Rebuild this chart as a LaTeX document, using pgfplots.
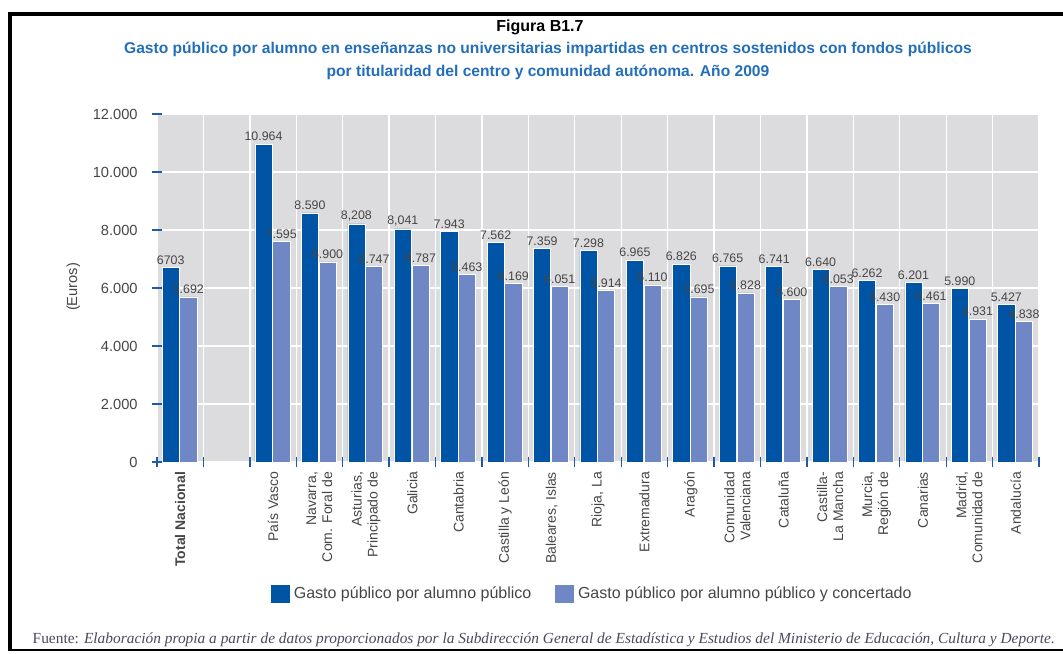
\documentclass[border=0pt]{standalone}
\usepackage{pgfplots}
\pgfplotsset{compat=1.18}
\usepackage{pgfplotstable}
\usepackage{fontspec}
\setmainfont{Liberation Sans}
\newfontfamily\fuente{Liberation Serif}

\definecolor{darkbar}{RGB}{0,84,166}
\definecolor{lightbar}{RGB}{111,135,196}
\definecolor{bggray}{RGB}{220,220,222}
\definecolor{tickblue}{RGB}{30,90,170}
\definecolor{txtgray}{RGB}{70,70,70}
\definecolor{titblue}{RGB}{35,110,185}
\definecolor{srcgray}{RGB}{75,72,95}

% publico
\pgfplotstableread{
x y lab
0 6703 6703
2 10964 10.964
3 8590 8.590
4 8208 8,208
5 8041 8,041
6 7943 7.943
7 7562 7.562
8 7359 7.359
9 7298 7.298
10 6965 6.965
11 6826 6.826
12 6765 6.765
13 6741 6.741
14 6640 6.640
15 6262 6.262
16 6201 6.201
17 5990 5.990
18 5427 5.427
}\publico

% publico y concertado
\pgfplotstableread{
x y lab
0 5692 5.692
2 7595 7.595
3 6900 6.900
4 6747 6.747
5 6787 6.787
6 6463 6.463
7 6169 6.169
8 6051 6.051
9 5914 5.914
10 6110 6.110
11 5695 5.695
12 5828 5.828
13 5600 5.600
14 6053 6.053
15 5430 5.430
16 5461 5.461
17 4931 4.931
18 4838 4.838
}\concertado

\begin{document}
\begin{tikzpicture}[x=0.75pt, y=0.75pt]
\useasboundingbox (0,0) rectangle (1063,653);

% frame
\draw[line width=3pt] (8,639) -- (1063,639);
\draw[line width=3pt] (10,640.5) -- (10,2);
\draw[line width=1.5pt] (8,3) -- (1063,3);

% titles
\node[font=\bfseries\fontsize{12}{13}\selectfont] at (540,626) {Figura B1.7};
\node[font=\bfseries\fontsize{11.7}{17}\selectfont, text=titblue, align=center] at (548,592)
  {Gasto público por alumno en enseñanzas no universitarias impartidas en centros sostenidos con fondos públicos\\
   por titularidad del centro y comunidad autónoma. Año 2009};

\begin{axis}[
  at={(117.75pt,143.25pt)}, anchor=south west,
  width=661.5pt, height=261pt, scale only axis,
  xmin=-0.5, xmax=18.5, ymin=0, ymax=12000,
  enlargelimits=false,
  axis background/.style={fill=bggray},
  axis line style={draw=none},
  ybar,
  bar width=0.37,
  xtick pos=bottom, ytick pos=left,
  ytick={0,2000,...,12000},
  scaled y ticks=false,
  /pgf/number format/.cd, 1000 sep={.}, assume math mode=true, /pgfplots/.cd,
  yticklabel style={font=\fontsize{11}{13}\selectfont, text=txtgray, xshift=-7pt},
  xtick={0,...,18},
  xticklabels={{\textbf{Total Nacional}},{},País Vasco,{Navarra,\\Com. Foral de},{Asturias,\\Principado de},Galicia,Cantabria,Castilla y León,{Baleares, Islas},{Rioja, La},Extremadura,Aragón,{Comunidad\\Valenciana},Cataluña,{Castilla-\\La Mancha},{Murcia,\\Región de},Canarias,{Madrid,\\Comunidad de},Andalucía},
  xticklabel style={rotate=90, anchor=east, align=right, font=\fontsize{10.5}{12}\selectfont, text=txtgray},
  minor xtick={-0.5,0.5,...,18.5},
  tick align=center,
  major tick length=8pt, minor tick length=8pt,
  major x tick style={draw=none},
  minor x tick style={draw=tickblue, line width=1pt},
  y tick style={draw=tickblue, line width=1pt},
  ymajorgrids=true, xminorgrids=true,
  major y grid style={white, line width=1pt},
  minor x grid style={white, line width=1pt},
  ylabel={(Euros)},
  ylabel style={at={(axis description cs:-0.095,0.503)}, anchor=center, font=\fontsize{11}{13}\selectfont, text=txtgray},
  point meta=explicit symbolic,
  nodes near coords,
  every node near coord/.append style={font=\fontsize{9.3}{10}\selectfont, text=txtgray, inner sep=1pt, yshift=1pt},
  legend style={at={(0.494,-0.379)}, anchor=center, draw=none, fill=none,
    legend columns=2, font=\fontsize{12}{14}\selectfont, text=txtgray,
    /tikz/every odd column/.append style={column sep=1pt},
    /tikz/every even column/.append style={column sep=16pt}},
  legend image code/.code={\fill[#1,draw=none] (0pt,-6.8pt) rectangle (14pt,6.8pt);},
]
\addplot[fill=darkbar, draw=white, line width=0.4pt, bar shift=-0.205] table[x=x, y=y, meta=lab] {\publico};
\addplot[fill=lightbar, draw=white, line width=0.4pt, bar shift=0.175] table[x=x, y=y, meta=lab] {\concertado};
\legend{Gasto público por alumno público, Gasto público por alumno público y concertado}
\end{axis}

\node[anchor=base west, font=\fuente\fontsize{11.55}{13}\selectfont, text=srcgray] at (28,10)
  {Fuente: \textit{Elaboración propia a partir de datos proporcionados por la Subdirección General de Estadística y Estudios del Ministerio de Educación, Cultura y Deporte.}};
\end{tikzpicture}
\end{document}
